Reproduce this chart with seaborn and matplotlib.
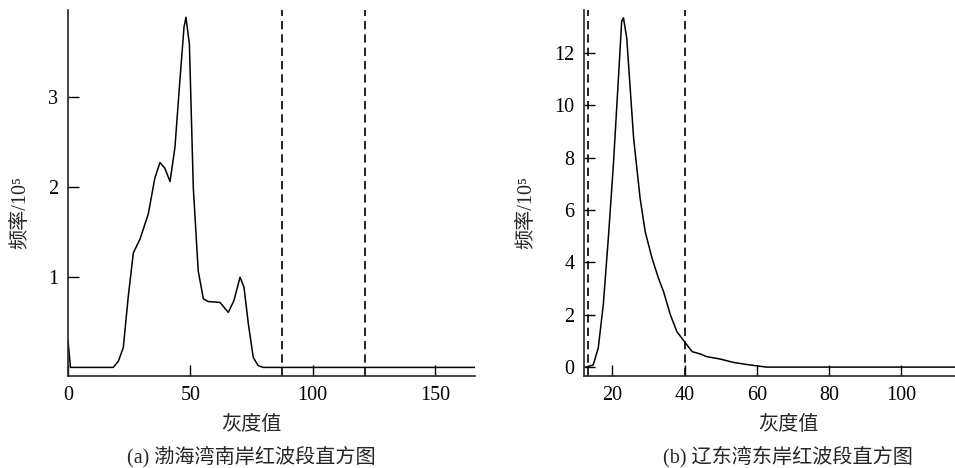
"""
Grey-level histograms of the red band for two coastal scenes
"""
import pandas as pd
import matplotlib
matplotlib.use('Agg')
import matplotlib.pyplot as plt
import seaborn as sns

# (a) 渤海湾南岸 - grey value vs frequency (x10^5)
grey_a = [0, 1, 18.5, 20.6, 22.6, 24.6, 26.7, 29.4, 32.8, 35.5, 37.6, 39.5, 41.7, 43.7,
          45.8, 47.4, 48.2, 49.6, 51.2, 53.2, 55.3, 57.3, 62.1, 65.5, 67.8, 70.3, 71.9,
          73.7, 75.7, 77.7, 79.8, 166.3]
freq_a = [0.30, 0, 0, 0.07, 0.22, 0.78, 1.27, 1.42, 1.70, 2.10, 2.27, 2.21, 2.06, 2.44,
          3.21, 3.77, 3.88, 3.58, 1.99, 1.07, 0.76, 0.73, 0.72, 0.61, 0.74, 1.00, 0.89,
          0.48, 0.11, 0.02, 0, 0]
thresholds_a = [87.5, 121.5]
xticks_a = [0, 50, 100, 150]
yticks_a = [1, 2, 3]

# (b) 辽东湾东岸
grey_b = [12.6, 14.7, 16.1, 17.5, 18.9, 20.3, 21.7, 22.6, 23.1, 24.0, 25.9, 27.7, 29.1,
          31.0, 32.8, 34.2, 36.1, 37.9, 40.0, 42.1, 44.4, 46.1, 49.8, 53.5, 57.2, 60.4,
          62.7, 115]
freq_b = [0, 0.08, 0.72, 2.37, 4.92, 7.73, 11.04, 13.21, 13.34, 12.57, 8.75, 6.45, 5.18,
          4.16, 3.39, 2.88, 1.99, 1.35, 0.97, 0.59, 0.50, 0.40, 0.31, 0.18, 0.10, 0.04,
          0, 0]
thresholds_b = [13.2, 40]
xticks_b = [20, 40, 60, 80, 100]
yticks_b = [0, 2, 4, 6, 8, 10, 12]

xlabel = '灰度值'
ylabel = '频率/10⁵'
caption_a = '(a) 渤海湾南岸红波段直方图'
caption_b = '(b) 辽东湾东岸红波段直方图'

sns.set_style('ticks')
serif = ['Liberation Serif', 'Noto Sans CJK SC']
cjk = ['Noto Sans CJK SC', 'Liberation Serif']
plt.rcParams['font.family'] = serif
plt.rcParams['axes.linewidth'] = 1.2


def draw_panel(ax, grey, freq, thresholds, xlim, ylim, xticks, yticks):
    df = pd.DataFrame({'grey': grey, 'freq': freq})
    sns.lineplot(data=df, x='grey', y='freq', ax=ax, color='black', linewidth=1.1,
                 sort=False, estimator=None)
    for t in thresholds:
        ax.axvline(t, color='black', linestyle=(0, (5, 3)), linewidth=1.2)
    ax.set_xlim(*xlim)
    ax.set_ylim(*ylim)
    ax.set_xticks(xticks)
    ax.set_yticks(yticks)
    ax.set_xlabel('')
    ax.set_ylabel('')
    ax.tick_params(direction='in', length=8, width=1, labelsize=14.5, pad=7,
                   colors='black')
    for lab in ax.get_xticklabels() + ax.get_yticklabels():
        lab.set_fontfamily(serif)
    sns.despine(ax=ax)


fig = plt.figure(figsize=(9.55, 4.68), dpi=100)
ax_a = fig.add_axes([0.0712, 0.1966, 0.4262, 0.782])
ax_b = fig.add_axes([0.6115, 0.1966, 0.3885, 0.782])

draw_panel(ax_a, grey_a, freq_a, thresholds_a, (0, 166.3), (-0.095, 3.96), xticks_a, yticks_a)
draw_panel(ax_b, grey_b, freq_b, thresholds_b, (12.16, 114.9), (-0.34, 13.64), xticks_b, yticks_b)

# labels and captions
for cx, ylx, cap in [(0.2628, 0.022, caption_a), (0.825, 0.552, caption_b)]:
    fig.text(cx, 0.094, xlabel, ha='center', va='center', fontsize=14.5, family=cjk)
    fig.text(cx, 0.0235, cap, ha='center', va='center', fontsize=14.5, family=serif)
    fig.text(ylx, 0.545, ylabel, ha='center', va='center', rotation=90,
             fontsize=14.5, family=serif)

fig.savefig('out.png', dpi=100)
